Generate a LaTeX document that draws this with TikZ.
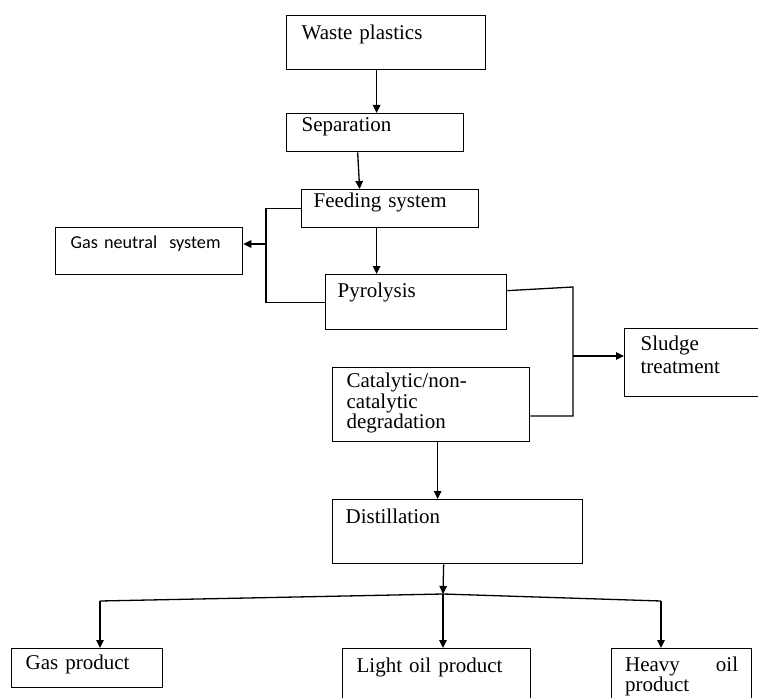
\documentclass[tikz,border=0pt]{standalone}
\usepackage{fontspec}
\setmainfont{Liberation Serif}
\newfontfamily\gnfont{Carlito}
\usetikzlibrary{arrows.meta}
\begin{document}
\begin{tikzpicture}[x=1pt,y=-1pt,
  box/.style={draw, line width=1.3pt, anchor=north west, inner ysep=0pt, align=left,
    font=\fontsize{21}{21}\selectfont},
  arr/.style={line width=1.3pt, -{Triangle[length=8pt,width=7.5pt]}},
  ln/.style={line width=1.3pt}]
\fill[white] (0,0) rectangle (758,698);
\useasboundingbox (0,0) rectangle (758,698);

\node[box, inner xsep=15pt, text width=169pt, text height=24pt, text depth=30pt] (wp) at (286,15) {Waste plastics};
\node[box, inner xsep=15pt, text width=147pt, text height=18pt, text depth=20pt] (sep) at (286,113) {Separation};
\node[box, inner xsep=12pt, text width=153pt, text height=18pt, text depth=20pt] (feed) at (301,189) {Feeding system};
\node[box, inner xsep=15pt, text width=157pt, text height=21pt, text depth=26pt, font=\gnfont\fontsize{18.2}{20}\selectfont] (gn) at (55,227) {Gas neutral~ system};
\node[box, inner xsep=12pt, text width=157pt, text height=23pt, text depth=32pt] (pyr) at (325,274) {Pyrolysis};
\node[box, inner xsep=16pt, text width=106pt, text height=22pt, text depth=46pt, font=\fontsize{21}{23}\selectfont] (sl) at (624,328) {Sludge\\treatment};
\node[box, inner xsep=14pt, text width=169pt, text height=20pt, text depth=54pt, font=\fontsize{21}{20.5}\selectfont] (cat) at (332,367) {Catalytic/non-\\catalytic\\degradation};
\node[box, inner xsep=13pt, text width=224pt, text height=24pt, text depth=40pt] (dist) at (332,499) {Distillation};
\node[box, inner xsep=14pt, text width=123pt, text height=21pt, text depth=18pt] (gp) at (11,648) {Gas product};
\node[box, inner xsep=14pt, text width=160pt, text height=24pt, text depth=33pt] (lo) at (342,648) {Light oil product};
\node[box, inner xsep=13.5pt, text width=113pt, text height=23pt, text depth=34pt, font=\fontsize{21}{19.5}\selectfont] (ho) at (611,648) {Heavy\hfill oil\\product};

\draw[arr] ([xshift=-9.5pt]wp.south) -- ([xshift=-9.5pt]wp.south |- sep.north);
\draw[arr] ([xshift=-17.5pt]sep.south) -- ([xshift=-30.5pt]feed.north);
\draw[arr] ([xshift=-13.5pt]feed.south) -- ([xshift=-13.5pt]feed.south |- pyr.north);

\coordinate (jl) at (266,244);
\draw[ln] (feed.west) -- (feed.west -| jl) -- (pyr.west -| jl) -- (pyr.west);
\draw[arr] (jl) -- (jl -| gn.east);

\coordinate (jr1) at (573,287);
\coordinate (jr2) at (573,416);
\coordinate (jr) at (573,356);
\draw[ln] ([yshift=11.5pt]pyr.east) -- (jr1) -- (jr2) -- (jr2 -| cat.east);
\draw[arr] (jr) -- (jr -| sl.west);

\draw[arr] ([xshift=6.5pt]cat.south) -- ([xshift=6.5pt]cat.south |- dist.north);

\coordinate (bm) at (443,594);
\coordinate (bl) at (100,601);
\coordinate (br) at (661,601);
\draw[arr] ([xshift=-14pt]dist.south) -- (bm);
\draw[ln] (bl) -- (bm) -- (br);
\draw[arr] (bl) -- (bl |- gp.north);
\draw[arr] (bm) -- (bm |- lo.north);
\draw[arr] (br) -- (br |- ho.north);
\end{tikzpicture}
\end{document}
